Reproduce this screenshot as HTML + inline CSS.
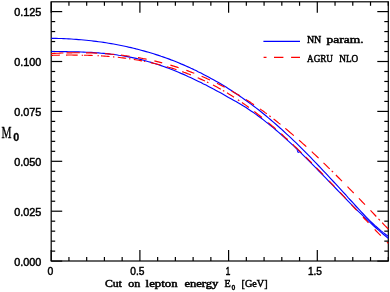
<!DOCTYPE html>
<html><head><meta charset="utf-8"><title>plot</title>
<style>
html,body{margin:0;padding:0;background:#fff;}
body{width:390px;height:292px;overflow:hidden;}
svg{display:block;will-change:transform;}
.num text{font-family:"Liberation Sans",sans-serif;font-size:10.5px;fill:#000;stroke:#000;stroke-width:0.45px;}
.lab{font-family:"Liberation Serif",serif;font-weight:normal;fill:#000;stroke:#000;stroke-width:0.5px;}
.labM{font-family:"Liberation Serif",serif;font-weight:normal;fill:#000;stroke:#000;stroke-width:0.35px;}
.sub{font-family:"Liberation Sans",sans-serif;font-weight:bold;fill:#000;stroke:#000;stroke-width:0.3px;}
</style></head><body>
<svg width="390" height="292" viewBox="0 0 390 292">
<rect x="0" y="0" width="390" height="292" fill="#fff"/>
<g stroke="#000" stroke-width="1.2" fill="none">
<rect x="51.2" y="1.8" width="337.1" height="259.2"/>
<line x1="51.20" y1="261.0" x2="51.20" y2="250.0"/>
<line x1="51.20" y1="1.8" x2="51.20" y2="12.8"/>
<line x1="68.94" y1="261.0" x2="68.94" y2="257.0"/>
<line x1="68.94" y1="1.8" x2="68.94" y2="5.8"/>
<line x1="86.68" y1="261.0" x2="86.68" y2="257.0"/>
<line x1="86.68" y1="1.8" x2="86.68" y2="5.8"/>
<line x1="104.42" y1="261.0" x2="104.42" y2="257.0"/>
<line x1="104.42" y1="1.8" x2="104.42" y2="5.8"/>
<line x1="122.16" y1="261.0" x2="122.16" y2="257.0"/>
<line x1="122.16" y1="1.8" x2="122.16" y2="5.8"/>
<line x1="139.90" y1="261.0" x2="139.90" y2="250.0"/>
<line x1="139.90" y1="1.8" x2="139.90" y2="12.8"/>
<line x1="157.64" y1="261.0" x2="157.64" y2="257.0"/>
<line x1="157.64" y1="1.8" x2="157.64" y2="5.8"/>
<line x1="175.38" y1="261.0" x2="175.38" y2="257.0"/>
<line x1="175.38" y1="1.8" x2="175.38" y2="5.8"/>
<line x1="193.12" y1="261.0" x2="193.12" y2="257.0"/>
<line x1="193.12" y1="1.8" x2="193.12" y2="5.8"/>
<line x1="210.86" y1="261.0" x2="210.86" y2="257.0"/>
<line x1="210.86" y1="1.8" x2="210.86" y2="5.8"/>
<line x1="228.60" y1="261.0" x2="228.60" y2="250.0"/>
<line x1="228.60" y1="1.8" x2="228.60" y2="12.8"/>
<line x1="246.34" y1="261.0" x2="246.34" y2="257.0"/>
<line x1="246.34" y1="1.8" x2="246.34" y2="5.8"/>
<line x1="264.08" y1="261.0" x2="264.08" y2="257.0"/>
<line x1="264.08" y1="1.8" x2="264.08" y2="5.8"/>
<line x1="281.82" y1="261.0" x2="281.82" y2="257.0"/>
<line x1="281.82" y1="1.8" x2="281.82" y2="5.8"/>
<line x1="299.56" y1="261.0" x2="299.56" y2="257.0"/>
<line x1="299.56" y1="1.8" x2="299.56" y2="5.8"/>
<line x1="317.30" y1="261.0" x2="317.30" y2="250.0"/>
<line x1="317.30" y1="1.8" x2="317.30" y2="12.8"/>
<line x1="335.04" y1="261.0" x2="335.04" y2="257.0"/>
<line x1="335.04" y1="1.8" x2="335.04" y2="5.8"/>
<line x1="352.78" y1="261.0" x2="352.78" y2="257.0"/>
<line x1="352.78" y1="1.8" x2="352.78" y2="5.8"/>
<line x1="370.52" y1="261.0" x2="370.52" y2="257.0"/>
<line x1="370.52" y1="1.8" x2="370.52" y2="5.8"/>
<line x1="388.26" y1="261.0" x2="388.26" y2="257.0"/>
<line x1="388.26" y1="1.8" x2="388.26" y2="5.8"/>
<line x1="51.2" y1="261.10" x2="62.2" y2="261.10"/>
<line x1="388.3" y1="261.10" x2="377.3" y2="261.10"/>
<line x1="51.2" y1="251.12" x2="55.2" y2="251.12"/>
<line x1="388.3" y1="251.12" x2="384.3" y2="251.12"/>
<line x1="51.2" y1="241.14" x2="55.2" y2="241.14"/>
<line x1="388.3" y1="241.14" x2="384.3" y2="241.14"/>
<line x1="51.2" y1="231.16" x2="55.2" y2="231.16"/>
<line x1="388.3" y1="231.16" x2="384.3" y2="231.16"/>
<line x1="51.2" y1="221.18" x2="55.2" y2="221.18"/>
<line x1="388.3" y1="221.18" x2="384.3" y2="221.18"/>
<line x1="51.2" y1="211.20" x2="62.2" y2="211.20"/>
<line x1="388.3" y1="211.20" x2="377.3" y2="211.20"/>
<line x1="51.2" y1="201.22" x2="55.2" y2="201.22"/>
<line x1="388.3" y1="201.22" x2="384.3" y2="201.22"/>
<line x1="51.2" y1="191.24" x2="55.2" y2="191.24"/>
<line x1="388.3" y1="191.24" x2="384.3" y2="191.24"/>
<line x1="51.2" y1="181.26" x2="55.2" y2="181.26"/>
<line x1="388.3" y1="181.26" x2="384.3" y2="181.26"/>
<line x1="51.2" y1="171.28" x2="55.2" y2="171.28"/>
<line x1="388.3" y1="171.28" x2="384.3" y2="171.28"/>
<line x1="51.2" y1="161.30" x2="62.2" y2="161.30"/>
<line x1="388.3" y1="161.30" x2="377.3" y2="161.30"/>
<line x1="51.2" y1="151.32" x2="55.2" y2="151.32"/>
<line x1="388.3" y1="151.32" x2="384.3" y2="151.32"/>
<line x1="51.2" y1="141.34" x2="55.2" y2="141.34"/>
<line x1="388.3" y1="141.34" x2="384.3" y2="141.34"/>
<line x1="51.2" y1="131.36" x2="55.2" y2="131.36"/>
<line x1="388.3" y1="131.36" x2="384.3" y2="131.36"/>
<line x1="51.2" y1="121.38" x2="55.2" y2="121.38"/>
<line x1="388.3" y1="121.38" x2="384.3" y2="121.38"/>
<line x1="51.2" y1="111.40" x2="62.2" y2="111.40"/>
<line x1="388.3" y1="111.40" x2="377.3" y2="111.40"/>
<line x1="51.2" y1="101.42" x2="55.2" y2="101.42"/>
<line x1="388.3" y1="101.42" x2="384.3" y2="101.42"/>
<line x1="51.2" y1="91.44" x2="55.2" y2="91.44"/>
<line x1="388.3" y1="91.44" x2="384.3" y2="91.44"/>
<line x1="51.2" y1="81.46" x2="55.2" y2="81.46"/>
<line x1="388.3" y1="81.46" x2="384.3" y2="81.46"/>
<line x1="51.2" y1="71.48" x2="55.2" y2="71.48"/>
<line x1="388.3" y1="71.48" x2="384.3" y2="71.48"/>
<line x1="51.2" y1="61.50" x2="62.2" y2="61.50"/>
<line x1="388.3" y1="61.50" x2="377.3" y2="61.50"/>
<line x1="51.2" y1="51.52" x2="55.2" y2="51.52"/>
<line x1="388.3" y1="51.52" x2="384.3" y2="51.52"/>
<line x1="51.2" y1="41.54" x2="55.2" y2="41.54"/>
<line x1="388.3" y1="41.54" x2="384.3" y2="41.54"/>
<line x1="51.2" y1="31.56" x2="55.2" y2="31.56"/>
<line x1="388.3" y1="31.56" x2="384.3" y2="31.56"/>
<line x1="51.2" y1="21.58" x2="55.2" y2="21.58"/>
<line x1="388.3" y1="21.58" x2="384.3" y2="21.58"/>
<line x1="51.2" y1="11.60" x2="62.2" y2="11.60"/>
<line x1="388.3" y1="11.60" x2="377.3" y2="11.60"/>
</g>
<g fill="none" stroke-width="1.15" stroke-linejoin="round">
<path d="M51.2 38.3 L53.7 38.3 L56.2 38.4 L58.7 38.5 L61.2 38.5 L63.7 38.6 L66.2 38.8 L68.7 38.9 L71.2 39.0 L73.7 39.2 L76.2 39.4 L78.7 39.6 L81.2 39.8 L83.7 40.0 L86.2 40.2 L88.7 40.5 L91.2 40.8 L93.6 41.1 L96.1 41.4 L98.6 41.7 L101.1 42.0 L103.6 42.4 L106.1 42.8 L108.6 43.2 L111.1 43.6 L113.6 44.0 L116.1 44.5 L118.6 45.0 L121.1 45.5 L123.6 46.0 L126.1 46.5 L128.6 47.1 L131.1 47.6 L133.6 48.2 L136.1 48.9 L138.6 49.5 L141.1 50.2 L143.6 50.9 L146.1 51.6 L148.6 52.3 L151.1 53.0 L153.6 53.8 L156.1 54.6 L158.6 55.4 L161.1 56.3 L163.6 57.1 L166.1 58.0 L168.6 58.9 L171.1 59.9 L173.6 60.8 L176.1 61.8 L178.5 62.8 L181.0 63.9 L183.5 64.9 L186.0 66.0 L188.5 67.1 L191.0 68.3 L193.5 69.4 L196.0 70.6 L198.5 71.9 L201.0 73.1 L203.5 74.4 L206.0 75.7 L208.5 77.0 L211.0 78.4 L213.5 79.8 L216.0 81.2 L218.5 82.6 L221.0 84.1 L223.5 85.6 L226.0 87.1 L228.5 88.7 L231.0 90.3 L233.5 91.9 L236.0 93.6 L238.5 95.2 L241.0 96.9 L243.5 98.7 L246.0 100.5 L248.5 102.3 L251.0 104.1 L253.5 106.0 L256.0 107.9 L258.5 109.8 L261.0 111.8 L263.4 113.8 L265.9 115.8 L268.4 117.9 L270.9 120.0 L273.4 122.1 L275.9 124.3 L278.4 126.5 L280.9 128.7 L283.4 131.0 L285.9 133.3 L288.4 135.6 L290.9 137.9 L293.4 140.3 L295.9 142.7 L298.4 145.2 L300.9 147.6 L303.4 150.1 L305.9 152.6 L308.4 155.2 L310.9 157.7 L313.4 160.3 L315.9 162.9 L318.4 165.5 L320.9 168.1 L323.4 170.8 L325.9 173.4 L328.4 176.1 L330.9 178.8 L333.4 181.5 L335.9 184.2 L338.4 186.9 L340.9 189.6 L343.4 192.3 L345.9 195.0 L348.3 197.8 L350.8 200.5 L353.3 203.2 L355.8 206.0 L358.3 208.7 L360.8 211.3 L363.3 214.0 L365.8 216.6 L368.3 219.1 L370.8 221.6 L373.3 224.0 L375.8 226.3 L378.3 228.5 L380.8 230.6 L383.3 232.6 L385.8 234.5 L388.3 236.2" stroke="#0000ff"/>
<path d="M51.2 51.5 L53.7 51.5 L56.2 51.5 L58.7 51.5 L61.2 51.6 L63.7 51.6 L66.2 51.6 L68.7 51.7 L71.2 51.7 L73.7 51.8 L76.2 51.8 L78.7 51.9 L81.2 52.0 L83.7 52.1 L86.2 52.2 L88.7 52.3 L91.2 52.4 L93.6 52.6 L96.1 52.8 L98.6 52.9 L101.1 53.2 L103.6 53.4 L106.1 53.6 L108.6 53.9 L111.1 54.2 L113.6 54.5 L116.1 54.8 L118.6 55.2 L121.1 55.5 L123.6 56.0 L126.1 56.4 L128.6 56.9 L131.1 57.4 L133.6 57.9 L136.1 58.4 L138.6 59.0 L141.1 59.6 L143.6 60.3 L146.1 61.0 L148.6 61.7 L151.1 62.4 L153.6 63.2 L156.1 64.0 L158.6 64.8 L161.1 65.6 L163.6 66.5 L166.1 67.4 L168.6 68.3 L171.1 69.3 L173.6 70.3 L176.1 71.3 L178.5 72.3 L181.0 73.4 L183.5 74.4 L186.0 75.5 L188.5 76.7 L191.0 77.8 L193.5 79.0 L196.0 80.2 L198.5 81.4 L201.0 82.6 L203.5 83.9 L206.0 85.1 L208.5 86.4 L211.0 87.7 L213.5 89.1 L216.0 90.4 L218.5 91.8 L221.0 93.1 L223.5 94.5 L226.0 95.9 L228.5 97.4 L231.0 98.8 L233.5 100.2 L236.0 101.6 L238.5 103.1 L241.0 104.5 L243.5 106.1 L246.0 107.6 L248.5 109.3 L251.0 110.9 L253.5 112.6 L256.0 114.4 L258.5 116.2 L261.0 118.0 L263.4 119.9 L265.9 121.9 L268.4 123.8 L270.9 125.9 L273.4 127.9 L275.9 130.0 L278.4 132.1 L280.9 134.3 L283.4 136.5 L285.9 138.8 L288.4 141.1 L290.9 143.4 L293.4 145.7 L295.9 148.1 L298.4 150.5 L300.9 152.9 L303.4 155.4 L305.9 157.9 L308.4 160.3 L310.9 162.9 L313.4 165.4 L315.9 167.9 L318.4 170.5 L320.9 173.0 L323.4 175.6 L325.9 178.2 L328.4 180.8 L330.9 183.3 L333.4 185.9 L335.9 188.5 L338.4 191.1 L340.9 193.6 L343.4 196.2 L345.9 198.8 L348.3 201.3 L350.8 203.8 L353.3 206.3 L355.8 208.8 L358.3 211.3 L360.8 213.7 L363.3 216.1 L365.8 218.5 L368.3 220.9 L370.8 223.2 L373.3 225.5 L375.8 227.7 L378.3 229.9 L380.8 232.1 L383.3 234.2 L385.8 236.3 L388.3 238.4" stroke="#0000ff"/>
<path d="M297.2 150.2 L297.8 152.4 L299.4 152.4" stroke="#0000ff" stroke-width="0.9"/>
<path d="M51.2 53.6 L52.9 53.5 L54.7 53.4 L56.4 53.3 L58.2 53.2 L59.9 53.1 L61.7 53.0 L63.4 53.0 M66.5 52.9 L68.4 52.8 L70.3 52.8 L72.2 52.8 L74.1 52.7 L76.0 52.7 L77.9 52.7 L79.8 52.7 M86.0 52.8 L87.9 52.8 L89.8 52.9 L91.7 52.9 L93.5 53.0 L95.4 53.1 L97.3 53.2 M105.0 53.6 L106.9 53.7 L108.7 53.9 L110.6 54.1 L112.4 54.2 L114.3 54.4 M121.0 55.1 L122.7 55.3 L124.5 55.6 L126.2 55.8 L128.0 56.0 L129.7 56.3 M138.0 57.6 L139.7 57.9 L141.5 58.2 L143.2 58.6 L145.0 58.9 L146.7 59.3 M154.4 60.9 L156.3 61.4 L158.3 61.9 L160.2 62.4 L162.2 62.9 M170.4 65.1 L172.0 65.6 L173.7 66.1 L175.3 66.6 L177.0 67.1 L178.6 67.7 M186.3 70.3 L187.9 70.9 L189.5 71.5 L191.1 72.1 L192.7 72.7 L194.3 73.3 M201.6 76.3 L203.3 77.0 L205.0 77.7 L206.6 78.4 L208.3 79.2 L210.0 80.0 M217.0 83.3 L218.9 84.2 L220.8 85.2 L222.8 86.2 L224.7 87.2 M231.6 91.0 L233.3 91.9 L235.0 92.9 L236.6 93.9 L238.3 94.8 L240.0 95.8 M246.0 99.5 L247.6 100.6 L249.2 101.6 L250.8 102.6 L252.4 103.7 L254.0 104.8 M260.0 108.9 L261.7 110.1 L263.4 111.3 L265.1 112.6 L266.8 113.8 M269.3 115.7 L270.7 116.8 M273.6 119.0 L275.3 120.3 L277.1 121.7 L278.8 123.1 L280.5 124.4 M285.3 128.4 L287.0 129.8 L288.7 131.2 L290.4 132.7 L292.1 134.1 L293.8 135.6 M299.0 140.1 L300.8 141.7 L302.6 143.4 L304.5 145.0 L306.3 146.7 M311.8 151.7 L313.5 153.3 L315.2 154.9 L316.9 156.5 L318.6 158.1 M323.5 162.8 L325.1 164.3 L326.6 165.8 L328.1 167.4 L329.7 168.9 M331.7 170.8 L333.1 172.2 M335.9 175.0 L337.4 176.5 L338.9 178.0 L340.5 179.6 L342.0 181.1 M347.5 186.7 L349.1 188.3 L350.6 189.8 L352.1 191.4 L353.7 193.0 M358.9 198.4 L360.4 199.9 L361.9 201.5 L363.5 203.1 L365.0 204.7 M370.5 210.4 L372.4 212.4 L374.4 214.5 L376.3 216.5 M378.5 218.8 L379.9 220.3 M382.2 222.7 L383.7 224.3 L385.2 225.9 L386.8 227.5 L388.3 229.1" stroke="#ff0000"/>
<path d="M51.2 55.3 L52.9 55.3 L54.6 55.2 L56.4 55.2 L58.1 55.2 L59.8 55.1 M66.0 55.1 L68.0 55.0 L69.9 55.0 L71.8 55.0 L73.8 55.1 L75.8 55.1 L77.7 55.1 M81.7 55.2 L83.1 55.2 M84.0 55.2 L85.7 55.2 L87.5 55.3 L89.2 55.4 L91.0 55.4 L92.7 55.5 M97.5 55.7 L98.9 55.8 M101.0 55.9 L102.7 56.0 L104.4 56.1 L106.2 56.3 L107.9 56.4 L109.6 56.5 M113.0 56.9 L114.4 57.0 M117.8 57.3 L119.5 57.5 L121.2 57.7 L122.8 57.9 L124.5 58.1 L126.2 58.3 M129.0 58.7 L130.4 58.9 M133.8 59.4 L135.4 59.7 L137.1 60.0 L138.7 60.3 L140.4 60.6 L142.0 60.9 M143.9 61.2 L145.3 61.5 M150.8 62.6 L152.8 63.1 L154.7 63.5 L156.7 64.0 L158.6 64.5 L160.6 65.0 M166.8 66.7 L168.7 67.3 L170.7 67.8 L172.6 68.4 L174.6 69.0 L176.5 69.7 M182.2 71.6 L183.9 72.3 L185.7 72.9 L187.4 73.6 L189.2 74.2 L190.9 74.9 M197.7 77.7 L199.5 78.6 L201.3 79.4 L203.2 80.2 L205.0 81.1 M207.0 82.0 L208.4 82.7 M213.0 85.0 L214.9 86.0 L216.9 87.1 L218.9 88.2 L220.8 89.2 M222.9 90.4 L224.3 91.3 M227.0 92.8 L228.8 93.9 L230.5 95.0 L232.2 96.1 L234.0 97.2 M237.9 99.8 L239.3 100.7 M241.9 102.5 L243.7 103.7 L245.4 104.9 L247.2 106.2 L248.9 107.5 M254.3 111.5 L256.2 113.0 L258.1 114.5 L260.1 116.0 L262.0 117.5 M268.2 122.6 L270.1 124.1 L271.9 125.7 L273.8 127.3 L275.7 128.9 M281.2 133.8 L282.9 135.3 L284.5 136.8 L286.1 138.3 L287.8 139.8 M292.8 144.4 L294.5 146.1 L296.3 147.7 L298.0 149.4 L299.8 151.1 L301.5 152.8 M305.6 156.8 L307.2 158.3 L308.7 159.9 L310.2 161.4 L311.8 163.0 M316.3 167.6 L318.0 169.3 L319.8 171.1 L321.5 172.9 L323.2 174.7 M329.0 180.8 L330.8 182.7 L332.7 184.6 L334.5 186.6 M340.0 192.4 L341.5 194.0 L343.0 195.6 L344.5 197.2 L346.0 198.8 M351.4 204.6 L353.2 206.6 L355.0 208.5 L356.8 210.4 M363.0 217.0 L364.8 219.0 L366.7 220.9 L368.5 222.9 M374.7 229.4 L376.2 231.0 L377.8 232.6 L379.3 234.2 L380.8 235.7 M387.0 242.1 L388.3 243.4" stroke="#ff0000"/>
</g>
<g class="num">
<text x="14.2" y="265.5" textLength="27.2" lengthAdjust="spacingAndGlyphs">0.000</text>
<text x="14.2" y="215.6" textLength="27.2" lengthAdjust="spacingAndGlyphs">0.025</text>
<text x="14.2" y="165.7" textLength="27.2" lengthAdjust="spacingAndGlyphs">0.050</text>
<text x="14.2" y="115.8" textLength="27.2" lengthAdjust="spacingAndGlyphs">0.075</text>
<text x="14.2" y="65.9" textLength="27.2" lengthAdjust="spacingAndGlyphs">0.100</text>
<text x="14.2" y="16.0" textLength="27.2" lengthAdjust="spacingAndGlyphs">0.125</text>
<text x="47.6" y="274.8" textLength="5.8" lengthAdjust="spacingAndGlyphs">0</text>
<text x="130.3" y="274.8" textLength="14.2" lengthAdjust="spacingAndGlyphs">0.5</text>
<text x="225.8" y="274.8" textLength="4.5" lengthAdjust="spacingAndGlyphs">1</text>
<text x="307.9" y="274.8" textLength="14.0" lengthAdjust="spacingAndGlyphs">1.5</text>
</g>
<line x1="263.4" y1="41.4" x2="300" y2="41.4" stroke="#0000ff" stroke-width="1.15"/>
<path d="M263.6 57.4H266.5M274 57.4H283.4M291.1 57.4H300" stroke="#ff0000" stroke-width="1.15" fill="none"/>
<path d="M226.1 274.35H230.2M308.8 274.35H313M24.4 15.5H28.7M24.4 65.4H28.7" stroke="#000" stroke-width="0.95" fill="none"/>
<text class="lab" x="306.9" y="43.1" font-size="10.9" textLength="14.4" lengthAdjust="spacingAndGlyphs">NN</text>
<text class="lab" x="326.6" y="43.1" font-size="10.9" textLength="37.0" lengthAdjust="spacingAndGlyphs">param.</text>
<text class="lab" x="307.0" y="61.5" font-size="10.9" textLength="26.0" lengthAdjust="spacingAndGlyphs">AGRU</text>
<text class="lab" x="339.3" y="61.5" font-size="10.9" textLength="19.0" lengthAdjust="spacingAndGlyphs">NLO</text>
<text class="lab" x="104.9" y="287.3" font-size="10.9" textLength="17.0" lengthAdjust="spacingAndGlyphs">Cut</text>
<text class="lab" x="128.2" y="287.3" font-size="10.9" textLength="12.0" lengthAdjust="spacingAndGlyphs">on</text>
<text class="lab" x="145.6" y="287.3" font-size="10.9" textLength="32.0" lengthAdjust="spacingAndGlyphs">lepton</text>
<text class="lab" x="184.4" y="287.3" font-size="10.9" textLength="34.0" lengthAdjust="spacingAndGlyphs">energy</text>
<text class="lab" x="224.6" y="287.3" font-size="10.9" textLength="6.2" lengthAdjust="spacingAndGlyphs">E</text>
<text class="sub" x="231.4" y="290.1" font-size="7.8" textLength="3.8" lengthAdjust="spacingAndGlyphs">0</text>
<text class="lab" x="241.6" y="287.3" font-size="10.9" textLength="26.0" lengthAdjust="spacingAndGlyphs">[GeV]</text>
<text class="labM" x="1.6" y="137.6" font-size="16.2" textLength="10.0" lengthAdjust="spacingAndGlyphs">M</text>
<text class="sub" x="13.2" y="141.2" font-size="11.5" textLength="6.0" lengthAdjust="spacingAndGlyphs">0</text>
</svg>
</body></html>
